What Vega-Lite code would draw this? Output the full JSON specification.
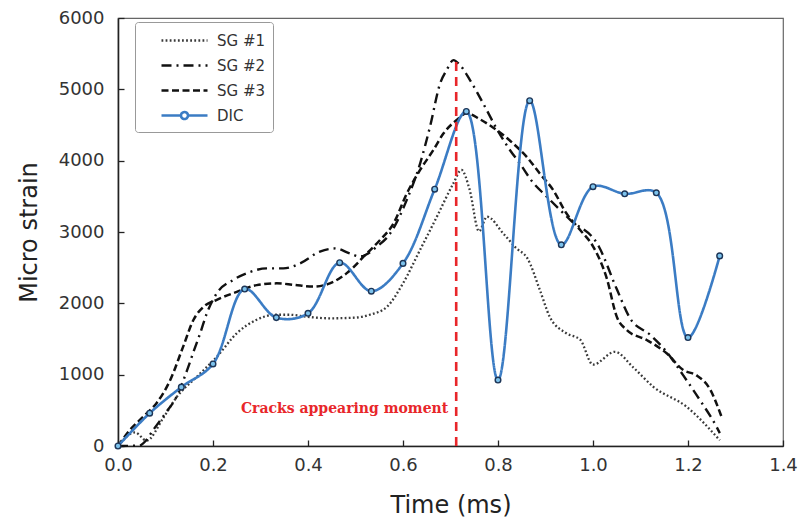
{
  "$schema": "https://vega.github.io/schema/vega-lite/v6.json",
  "width": 665,
  "height": 428,
  "autosize": "none",
  "padding": {"left": 118, "top": 18, "right": 18, "bottom": 83},
  "background": "white",
  "config": {
    "view": {"stroke": "#666", "strokeWidth": 1.2},
    "axis": {
      "grid": false,
      "labelFlush": false,
      "domainColor": "#222",
      "domainWidth": 1.6,
      "tickColor": "#222",
      "tickWidth": 1.3,
      "tickSize": -6,
      "labelFont": "DejaVu Sans",
      "labelFontSize": 18,
      "labelColor": "#333",
      "titleFont": "DejaVu Sans",
      "titleFontSize": 24,
      "titleFontWeight": "normal",
      "titleColor": "#222"
    },
    "legend": {
      "orient": "none",
      "legendX": 17,
      "legendY": 4,
      "symbolSize": 400,
      "symbolOffset": 31,
      "symbolStrokeWidth": 2.2,
      "labelFont": "DejaVu Sans",
      "labelFontSize": 15,
      "labelColor": "#333",
      "labelOffset": 21,
      "strokeColor": "#999",
      "fillColor": "white",
      "padding": 7,
      "rowPadding": 5,
      "cornerRadius": 3
    }
  },
  "datasets": {
    "sg": [
      {"series": "SG #1", "t": 0, "v": 0},
      {"series": "SG #1", "t": 0.036, "v": 190},
      {"series": "SG #1", "t": 0.06, "v": 75},
      {"series": "SG #1", "t": 0.095, "v": 390},
      {"series": "SG #1", "t": 0.124, "v": 690},
      {"series": "SG #1", "t": 0.166, "v": 970},
      {"series": "SG #1", "t": 0.208, "v": 1250},
      {"series": "SG #1", "t": 0.25, "v": 1580},
      {"series": "SG #1", "t": 0.292, "v": 1770},
      {"series": "SG #1", "t": 0.33, "v": 1840},
      {"series": "SG #1", "t": 0.36, "v": 1840},
      {"series": "SG #1", "t": 0.4, "v": 1810},
      {"series": "SG #1", "t": 0.446, "v": 1790},
      {"series": "SG #1", "t": 0.5, "v": 1800},
      {"series": "SG #1", "t": 0.53, "v": 1840},
      {"series": "SG #1", "t": 0.566, "v": 1950},
      {"series": "SG #1", "t": 0.6, "v": 2280},
      {"series": "SG #1", "t": 0.636, "v": 2750},
      {"series": "SG #1", "t": 0.671, "v": 3210},
      {"series": "SG #1", "t": 0.706, "v": 3680},
      {"series": "SG #1", "t": 0.723, "v": 3870},
      {"series": "SG #1", "t": 0.74, "v": 3600},
      {"series": "SG #1", "t": 0.76, "v": 3010},
      {"series": "SG #1", "t": 0.777, "v": 3215},
      {"series": "SG #1", "t": 0.811, "v": 2980},
      {"series": "SG #1", "t": 0.839, "v": 2770},
      {"series": "SG #1", "t": 0.862, "v": 2630},
      {"series": "SG #1", "t": 0.888, "v": 2190},
      {"series": "SG #1", "t": 0.909, "v": 1810},
      {"series": "SG #1", "t": 0.944, "v": 1580},
      {"series": "SG #1", "t": 0.973, "v": 1490},
      {"series": "SG #1", "t": 1.0, "v": 1140},
      {"series": "SG #1", "t": 1.046, "v": 1320},
      {"series": "SG #1", "t": 1.085, "v": 1100},
      {"series": "SG #1", "t": 1.127, "v": 830},
      {"series": "SG #1", "t": 1.197, "v": 550},
      {"series": "SG #1", "t": 1.267, "v": 80},

      {"series": "SG #2", "t": 0, "v": 0},
      {"series": "SG #2", "t": 0.045, "v": 5},
      {"series": "SG #2", "t": 0.058, "v": 70},
      {"series": "SG #2", "t": 0.074, "v": 224},
      {"series": "SG #2", "t": 0.1, "v": 460},
      {"series": "SG #2", "t": 0.124, "v": 700},
      {"series": "SG #2", "t": 0.148, "v": 1110},
      {"series": "SG #2", "t": 0.16, "v": 1340},
      {"series": "SG #2", "t": 0.173, "v": 1580},
      {"series": "SG #2", "t": 0.187, "v": 1860},
      {"series": "SG #2", "t": 0.208, "v": 2140},
      {"series": "SG #2", "t": 0.243, "v": 2330},
      {"series": "SG #2", "t": 0.278, "v": 2440},
      {"series": "SG #2", "t": 0.313, "v": 2490},
      {"series": "SG #2", "t": 0.348, "v": 2490},
      {"series": "SG #2", "t": 0.383, "v": 2560},
      {"series": "SG #2", "t": 0.425, "v": 2725},
      {"series": "SG #2", "t": 0.457, "v": 2770},
      {"series": "SG #2", "t": 0.488, "v": 2700},
      {"series": "SG #2", "t": 0.509, "v": 2655},
      {"series": "SG #2", "t": 0.545, "v": 2795},
      {"series": "SG #2", "t": 0.573, "v": 2980},
      {"series": "SG #2", "t": 0.608, "v": 3450},
      {"series": "SG #2", "t": 0.636, "v": 3960},
      {"series": "SG #2", "t": 0.657, "v": 4480},
      {"series": "SG #2", "t": 0.678, "v": 5080},
      {"series": "SG #2", "t": 0.692, "v": 5270},
      {"series": "SG #2", "t": 0.706, "v": 5410},
      {"series": "SG #2", "t": 0.72, "v": 5340},
      {"series": "SG #2", "t": 0.741, "v": 5130},
      {"series": "SG #2", "t": 0.769, "v": 4800},
      {"series": "SG #2", "t": 0.797, "v": 4450},
      {"series": "SG #2", "t": 0.825, "v": 4150},
      {"series": "SG #2", "t": 0.846, "v": 3960},
      {"series": "SG #2", "t": 0.874, "v": 3690},
      {"series": "SG #2", "t": 0.902, "v": 3500},
      {"series": "SG #2", "t": 0.952, "v": 3170},
      {"series": "SG #2", "t": 1.012, "v": 2800},
      {"series": "SG #2", "t": 1.05, "v": 2200},
      {"series": "SG #2", "t": 1.078, "v": 1790},
      {"series": "SG #2", "t": 1.12, "v": 1560},
      {"series": "SG #2", "t": 1.155, "v": 1320},
      {"series": "SG #2", "t": 1.19, "v": 990},
      {"series": "SG #2", "t": 1.225, "v": 645},
      {"series": "SG #2", "t": 1.26, "v": 270},
      {"series": "SG #2", "t": 1.267, "v": 180},

      {"series": "SG #3", "t": 0, "v": 0},
      {"series": "SG #3", "t": 0.025, "v": 224},
      {"series": "SG #3", "t": 0.053, "v": 411},
      {"series": "SG #3", "t": 0.081, "v": 600},
      {"series": "SG #3", "t": 0.11, "v": 925},
      {"series": "SG #3", "t": 0.137, "v": 1390},
      {"series": "SG #3", "t": 0.159, "v": 1770},
      {"series": "SG #3", "t": 0.18, "v": 1950},
      {"series": "SG #3", "t": 0.208, "v": 2050},
      {"series": "SG #3", "t": 0.25, "v": 2160},
      {"series": "SG #3", "t": 0.292, "v": 2255},
      {"series": "SG #3", "t": 0.334, "v": 2280},
      {"series": "SG #3", "t": 0.37, "v": 2260},
      {"series": "SG #3", "t": 0.411, "v": 2235},
      {"series": "SG #3", "t": 0.446, "v": 2280},
      {"series": "SG #3", "t": 0.481, "v": 2420},
      {"series": "SG #3", "t": 0.524, "v": 2700},
      {"series": "SG #3", "t": 0.552, "v": 2890},
      {"series": "SG #3", "t": 0.58, "v": 3120},
      {"series": "SG #3", "t": 0.608, "v": 3540},
      {"series": "SG #3", "t": 0.636, "v": 3870},
      {"series": "SG #3", "t": 0.664, "v": 4150},
      {"series": "SG #3", "t": 0.685, "v": 4380},
      {"series": "SG #3", "t": 0.713, "v": 4570},
      {"series": "SG #3", "t": 0.734, "v": 4665},
      {"series": "SG #3", "t": 0.762, "v": 4580},
      {"series": "SG #3", "t": 0.797, "v": 4430},
      {"series": "SG #3", "t": 0.832, "v": 4240},
      {"series": "SG #3", "t": 0.86, "v": 4057},
      {"series": "SG #3", "t": 0.888, "v": 3820},
      {"series": "SG #3", "t": 0.916, "v": 3590},
      {"series": "SG #3", "t": 0.944, "v": 3262},
      {"series": "SG #3", "t": 0.973, "v": 3028},
      {"series": "SG #3", "t": 1.0, "v": 2800},
      {"series": "SG #3", "t": 1.029, "v": 2350},
      {"series": "SG #3", "t": 1.05, "v": 1813},
      {"series": "SG #3", "t": 1.071, "v": 1626},
      {"series": "SG #3", "t": 1.113, "v": 1486},
      {"series": "SG #3", "t": 1.155, "v": 1300},
      {"series": "SG #3", "t": 1.19, "v": 1065},
      {"series": "SG #3", "t": 1.218, "v": 990},
      {"series": "SG #3", "t": 1.246, "v": 800},
      {"series": "SG #3", "t": 1.27, "v": 420}
    ],
    "dic": [
      {"series": "DIC", "t": 0, "v": 0},
      {"series": "DIC", "t": 0.0667, "v": 460},
      {"series": "DIC", "t": 0.1333, "v": 825},
      {"series": "DIC", "t": 0.2, "v": 1150},
      {"series": "DIC", "t": 0.2667, "v": 2200},
      {"series": "DIC", "t": 0.3333, "v": 1800},
      {"series": "DIC", "t": 0.4, "v": 1860},
      {"series": "DIC", "t": 0.4667, "v": 2570},
      {"series": "DIC", "t": 0.5333, "v": 2170},
      {"series": "DIC", "t": 0.6, "v": 2560},
      {"series": "DIC", "t": 0.6667, "v": 3600},
      {"series": "DIC", "t": 0.7333, "v": 4690},
      {"series": "DIC", "t": 0.8, "v": 925},
      {"series": "DIC", "t": 0.8667, "v": 4840},
      {"series": "DIC", "t": 0.9333, "v": 2820},
      {"series": "DIC", "t": 1.0, "v": 3635},
      {"series": "DIC", "t": 1.0667, "v": 3535},
      {"series": "DIC", "t": 1.1333, "v": 3550},
      {"series": "DIC", "t": 1.2, "v": 1520},
      {"series": "DIC", "t": 1.2667, "v": 2665}
    ]
  },
  "encoding": {
    "x": {
      "field": "t",
      "type": "quantitative",
      "title": "Time (ms)",
      "scale": {"domain": [0, 1.4], "nice": false},
      "axis": {"values": [0, 0.2, 0.4, 0.6, 0.8, 1.0, 1.2, 1.4], "format": ".1f", "labelPadding": 16, "titlePadding": 19}
    },
    "y": {
      "field": "v",
      "type": "quantitative",
      "title": "Micro strain",
      "scale": {"domain": [0, 6000], "nice": false},
      "axis": {"values": [0, 1000, 2000, 3000, 4000, 5000, 6000], "format": "d", "labelPadding": 20, "titlePadding": 17}
    }
  },
  "layer": [
    {
      "data": {"name": "sg"},
      "mark": {"type": "line", "interpolate": "monotone"},
      "encoding": {
        "color": {
          "field": "series", "type": "nominal", "title": null,
          "scale": {"domain": ["SG #1", "SG #2", "SG #3", "DIC"], "range": ["#3a3a3a", "#111111", "#111111", "#3b7cc4"]},
          "legend": {
            "encode": {
              "symbols": {
                "update": {
                  "shape": {"signal": "datum.value === 'DIC' ? 'M-2.3,0H-0.35M0.35,0H2.3M-0.35,0A0.35,0.35 0 1,0 0.35,0A0.35,0.35 0 1,0 -0.35,0' : 'M-2.3,0H2.3'"}
                }
              }
            }
          }
        },
        "strokeDash": {
          "field": "series", "type": "nominal", "title": null,
          "scale": {"domain": ["SG #1", "SG #2", "SG #3", "DIC"], "range": [[1.8, 2.3], [10, 5, 2, 5], [7, 3.5], [1, 0]]}
        },
        "strokeWidth": {
          "field": "series", "type": "nominal", "legend": null,
          "scale": {"domain": ["SG #1", "SG #2", "SG #3", "DIC"], "range": [2.3, 2.6, 2.8, 2.2]}
        }
      }
    },
    {
      "data": {"name": "dic"},
      "mark": {"type": "line", "interpolate": "catmull-rom"},
      "encoding": {
        "color": {"field": "series", "type": "nominal"},
        "strokeDash": {"field": "series", "type": "nominal"},
        "strokeWidth": {"field": "series", "type": "nominal", "legend": null}
      }
    },
    {
      "data": {"name": "dic"},
      "mark": {"type": "point", "filled": true, "fill": "#7cc2ec", "stroke": "#1d3557", "strokeWidth": 1.4, "size": 32, "opacity": 1}
    },
    {
      "data": {"values": [{"event": "Cracks appearing moment", "t": 0.712, "top": 5400, "base": 0}]},
      "mark": {"type": "rule", "color": "#e8262a", "strokeWidth": 2.6, "strokeDash": [9, 6]},
      "encoding": {
        "x": {"field": "t", "type": "quantitative"},
        "y": {"field": "base", "type": "quantitative"},
        "y2": {"field": "top"}
      }
    },
    {
      "data": {"values": [{"event": "Cracks appearing moment", "t": 0.712, "level": 520}]},
      "mark": {"type": "text", "color": "#e8262a", "font": "DejaVu Serif", "fontWeight": "bold", "fontSize": 14, "align": "right", "baseline": "middle", "dx": -8},
      "encoding": {
        "x": {"field": "t", "type": "quantitative"},
        "y": {"field": "level", "type": "quantitative"},
        "text": {"field": "event"}
      }
    }
  ]
}
